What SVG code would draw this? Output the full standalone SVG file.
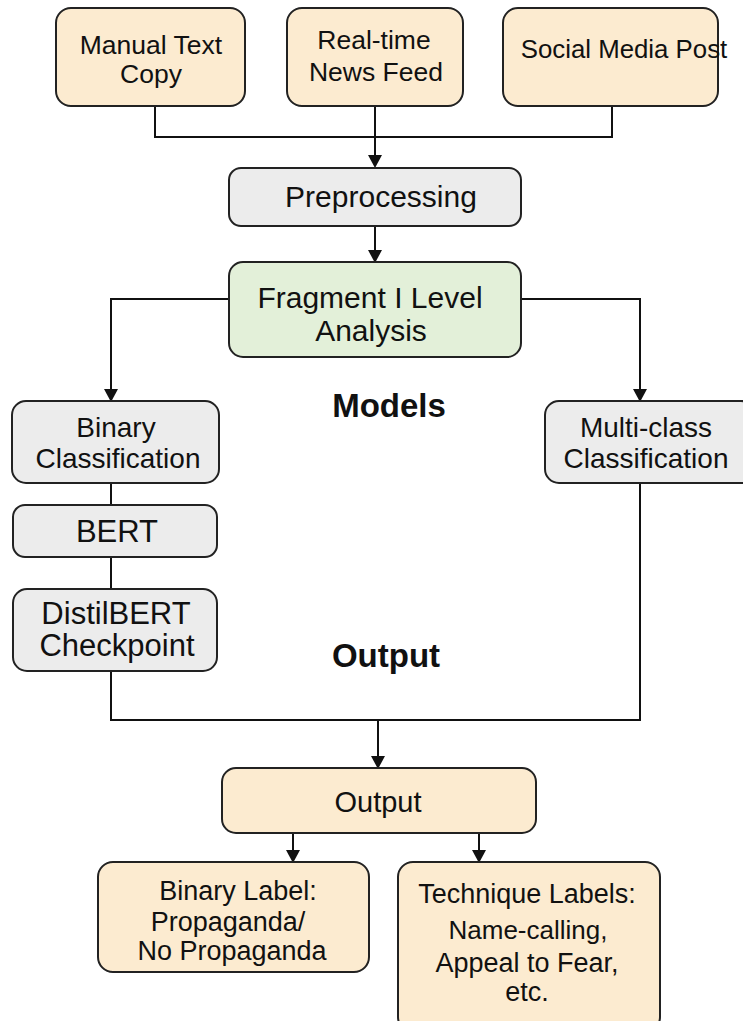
<svg xmlns="http://www.w3.org/2000/svg" width="743" height="1021" viewBox="0 0 743 1021">
<defs>
<style>
.box{stroke:#222;stroke-width:2}
.peach{fill:#fcebd0}
.gray{fill:#ececec}
.green{fill:#e3f0d9}
text{font-family:"Liberation Sans",Arial,sans-serif;fill:#111;text-anchor:middle}
.b{font-weight:bold}
.ln{fill:none;stroke:#111;stroke-width:2}
.ah{fill:#111}
</style>
</defs>
<rect width="743" height="1021" fill="#fff"/>
<g id="connectors">
<path class="ln" d="M155,106 V137 H612 V106"/>
<path class="ln" d="M375,106 V160"/>
<path class="ah" d="M368,155 L382,155 L375,168 z"/>
<path class="ln" d="M375,226 V256"/>
<path class="ah" d="M368,250 L382,250 L375,263 z"/>
<path class="ln" d="M229,299 H111 V395"/>
<path class="ah" d="M104,389 L118,389 L111,402 z"/>
<path class="ln" d="M521,299 H640 V395"/>
<path class="ah" d="M633,389 L647,389 L640,402 z"/>
<path class="ln" d="M111,483 V505 M111,557 V589"/>
<path class="ln" d="M111,671 V720 H640 V483"/>
<path class="ln" d="M378,720 V762"/>
<path class="ah" d="M371,756 L385,756 L378,769 z"/>
<path class="ln" d="M293,833 V856"/>
<path class="ah" d="M286,850 L300,850 L293,863 z"/>
<path class="ln" d="M479,833 V856"/>
<path class="ah" d="M472,850 L486,850 L479,863 z"/>
</g>
<g id="manual"><rect class="box peach" x="56" y="8" width="189" height="98" rx="15"/>
<text x="151" y="54" font-size="26.5">Manual Text</text><text x="151" y="83" font-size="26.5">Copy</text></g>
<g id="realtime"><rect class="box peach" x="287" y="8" width="176" height="98" rx="15"/>
<text x="374" y="49" font-size="26.5">Real-time</text><text x="376" y="81" font-size="26.5">News Feed</text></g>
<g id="social"><rect class="box peach" x="503" y="8" width="215" height="98" rx="15"/>
<text x="624" y="58" font-size="25.8">Social Media Post</text></g>
<g id="preprocessing"><rect class="box gray" x="229" y="168" width="292" height="58" rx="12"/>
<text x="381" y="207" font-size="30">Preprocessing</text></g>
<g id="fragment"><rect class="box green" x="229" y="262" width="292" height="95" rx="14"/>
<text x="370" y="308" font-size="30">Fragment I Level</text><text x="371" y="341" font-size="30">Analysis</text></g>
<text class="b" x="389" y="417" font-size="33">Models</text>
<text class="b" x="386" y="667" font-size="33">Output</text>
<g id="binary"><rect class="box gray" x="12" y="401" width="207" height="82" rx="14"/>
<text x="116" y="437" font-size="28">Binary</text><text x="118" y="468" font-size="28">Classification</text></g>
<g id="bert"><rect class="box gray" x="13" y="505" width="204" height="52" rx="12"/>
<text x="117" y="542" font-size="31">BERT</text></g>
<g id="distilbert"><rect class="box gray" x="13" y="589" width="204" height="82" rx="14"/>
<text x="116" y="624" font-size="31">DistilBERT</text><text x="117" y="656" font-size="31">Checkpoint</text></g>
<g id="multiclass"><rect class="box gray" x="545" y="401" width="210" height="82" rx="14"/>
<text x="646" y="437" font-size="28">Multi-class</text><text x="646" y="468" font-size="28">Classification</text></g>
<g id="output"><rect class="box peach" x="222" y="768" width="314" height="65" rx="14"/>
<text x="378" y="812" font-size="29">Output</text></g>
<g id="binarylabel"><rect class="box peach" x="98" y="862" width="271" height="110" rx="15"/>
<text x="238" y="900" font-size="27">Binary Label:</text><text x="228" y="931" font-size="27">Propaganda/</text><text x="232" y="960" font-size="27">No Propaganda</text></g>
<g id="technique"><rect class="box peach" x="398" y="862" width="262" height="170" rx="15"/>
<text x="527" y="903" font-size="27">Technique Labels:</text><text x="528" y="939" font-size="26">Name-calling,</text><text x="527" y="972" font-size="27">Appeal to Fear,</text><text x="527" y="1001" font-size="27">etc.</text></g>
</svg>
